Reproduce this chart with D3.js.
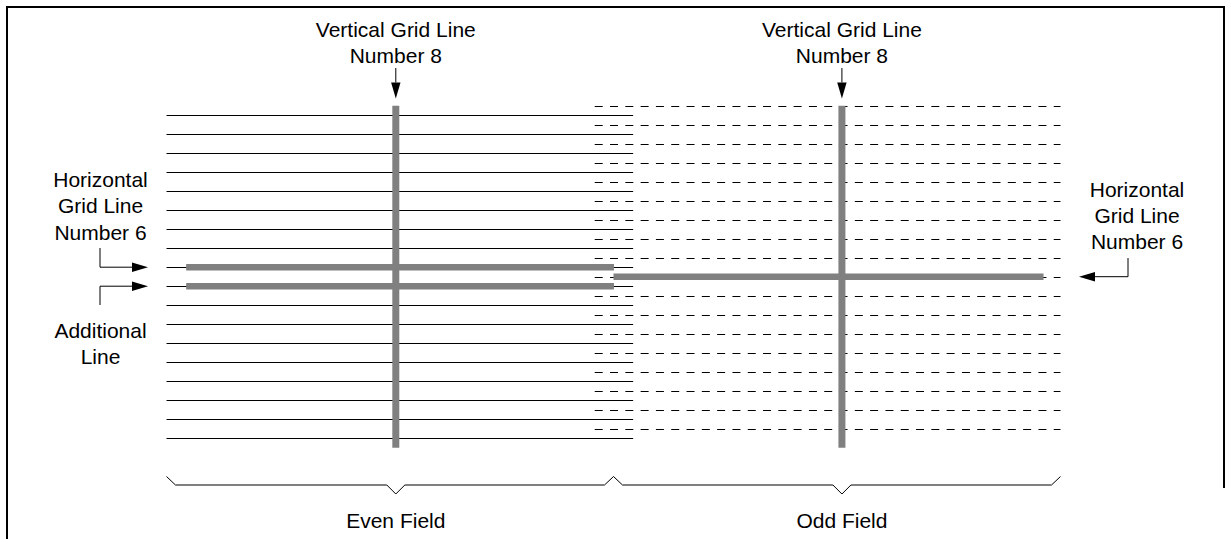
<!DOCTYPE html>
<html lang="en">
<head>
<meta charset="utf-8">
<title>Even / Odd Field grid lines</title>
<script src="https://cdn.jsdelivr.net/npm/d3@7"></script>
<style>
  html, body { margin: 0; padding: 0; background: #fff; }
  #chart svg { display: block; }
  .etiqueta {
    font-family: "Liberation Sans", Arial, Helvetica, sans-serif;
    font-size: 21px;
    fill: #000;
    text-anchor: middle;
  }
</style>
</head>
<body>
<div id="chart"></div>
<script>
// --- datos del diagrama ---
const nombresCampo = ["Even Field", "Odd Field"];
const lineasPorCampo = 18;
const resaltadoPar = [8, 9];     // grid line 6 + additional line (índice dentro del campo par)
const resaltadoImpar = [9];      // grid line 6 en el campo impar
const etiquetaVertical = ["Vertical Grid Line", "Number 8"];
const etiquetaHorizontal = ["Horizontal", "Grid Line", "Number 6"];
const etiquetaAdicional = ["Additional", "Line"];

// --- layout ---
const width = 1231;
const height = 539;
const gris = "#808080";

// posición vertical en medias líneas: impar = 2i, par = 2i + 1
const y = d3.scaleLinear()
  .domain([0, 2 * lineasPorCampo])
  .range([105.7, 447.7]);

// eje horizontal del diagrama completo: 0 = inicio campo par, 50 = cambio de campo, 100 = fin campo impar
const x = d3.scaleLinear()
  .domain([0, 100])
  .range([166.5, 1060.5]);

const campos = [
  {
    nombre: nombresCampo[0],
    posicion: i => 2 * i + 1,
    linea: [0, 52.2],
    grueso: [2.2, 50.05],
    resaltado: resaltadoPar,
    vertical: 25.65,
    llave: [0, 50],
    guiones: null
  },
  {
    nombre: nombresCampo[1],
    posicion: i => 2 * i,
    linea: [47.9, 100],
    grueso: [50, 98.1],
    resaltado: resaltadoImpar,
    vertical: 75.55,
    llave: [50, 100],
    guiones: "8,7.3"
  }
];

const svg = d3.select("#chart")
  .append("svg")
  .attr("width", width)
  .attr("height", height)
  .attr("viewBox", [0, 0, width, height]);

const linea = d3.line();

function dibujarMarco() {
  svg.append("path")
    .attr("d", linea([[7, height], [7, 7], [1224, 7], [1224, 488]]))
    .attr("fill", "none")
    .attr("stroke", "#000")
    .attr("stroke-width", 2);
}

function dibujarFlecha(puntos) {
  const largo = 16;
  const ancho = 4.7;
  const punta = puntos[puntos.length - 1];
  const previo = puntos[puntos.length - 2];
  const dx = punta[0] - previo[0];
  const dy = punta[1] - previo[1];
  const d = Math.hypot(dx, dy);
  const ux = dx / d, uy = dy / d;
  const base = [punta[0] - ux * largo, punta[1] - uy * largo];

  svg.append("path")
    .attr("d", linea(puntos.slice(0, -1).concat([base])))
    .attr("fill", "none")
    .attr("stroke", "#000")
    .attr("stroke-width", 1);

  svg.append("path")
    .attr("d", linea([
      punta,
      [base[0] - uy * ancho, base[1] + ux * ancho],
      [base[0] + uy * ancho, base[1] - ux * ancho]
    ]) + "Z")
    .attr("fill", "#000");
}

function dibujarTexto(lineas, cx, primeraBase, salto) {
  svg.append("g")
    .selectAll("text")
    .data(lineas)
    .join("text")
    .attr("class", "etiqueta")
    .attr("x", cx)
    .attr("y", (_, i) => primeraBase + i * salto)
    .text(d => d);
}

function dibujarCampo(campo) {
  const g = svg.append("g");

  // líneas delgadas del campo
  g.selectAll("line.fina")
    .data(d3.range(lineasPorCampo))
    .join("line")
    .attr("class", "fina")
    .attr("x1", x(campo.linea[0]))
    .attr("x2", x(campo.linea[1]))
    .attr("y1", i => Math.round(y(campo.posicion(i))) + 0.5)
    .attr("y2", i => Math.round(y(campo.posicion(i))) + 0.5)
    .attr("stroke", "#000")
    .attr("stroke-width", 1)
    .attr("stroke-dasharray", campo.guiones);

  // línea vertical de la cuadrícula
  g.append("line")
    .attr("x1", x(campo.vertical))
    .attr("x2", x(campo.vertical))
    .attr("y1", y(0))
    .attr("y2", y(2 * lineasPorCampo))
    .attr("stroke", gris)
    .attr("stroke-width", 7);

  // líneas horizontales resaltadas
  g.selectAll("line.gruesa")
    .data(campo.resaltado)
    .join("line")
    .attr("class", "gruesa")
    .attr("x1", x(campo.grueso[0]))
    .attr("x2", x(campo.grueso[1]))
    .attr("y1", i => y(campo.posicion(i)))
    .attr("y2", i => y(campo.posicion(i)))
    .attr("stroke", gris)
    .attr("stroke-width", 6.5);

  // llave inferior
  const x0 = x(campo.llave[0]);
  const x1 = x(campo.llave[1]);
  const xm = x(campo.vertical);
  const yl = 485;
  g.append("path")
    .attr("d", linea([
      [x0, yl - 8.5], [x0 + 9, yl], [xm - 9, yl], [xm, yl + 9],
      [xm + 9, yl], [x1 - 9, yl], [x1, yl - 8.5]
    ]))
    .attr("fill", "none")
    .attr("stroke", "#000")
    .attr("stroke-width", 1);

  dibujarTexto([campo.nombre], xm, 527.5, 0);

  // etiqueta superior con flecha
  dibujarTexto(etiquetaVertical, xm, 36.7, 26);
  dibujarFlecha([[xm, 68], [xm, 98.5]]);
}

dibujarMarco();
campos.forEach(dibujarCampo);

// etiquetas izquierdas
const yLinea6 = y(campos[0].posicion(resaltadoPar[0]));
const yAdicional = y(campos[0].posicion(resaltadoPar[1]));
dibujarTexto(etiquetaHorizontal, 100.5, 186.7, 26.6);
dibujarFlecha([[100, 248], [100, yLinea6], [148, yLinea6]]);
dibujarFlecha([[100, 305], [100, yAdicional], [148, yAdicional]]);
dibujarTexto(etiquetaAdicional, 100.5, 337.5, 26);

// etiqueta derecha
const yImpar6 = y(campos[1].posicion(resaltadoImpar[0]));
dibujarTexto(etiquetaHorizontal, 1137, 196.7, 26.3);
dibujarFlecha([[1128, 258], [1128, yImpar6], [1079, yImpar6]]);
</script>
</body>
</html>
